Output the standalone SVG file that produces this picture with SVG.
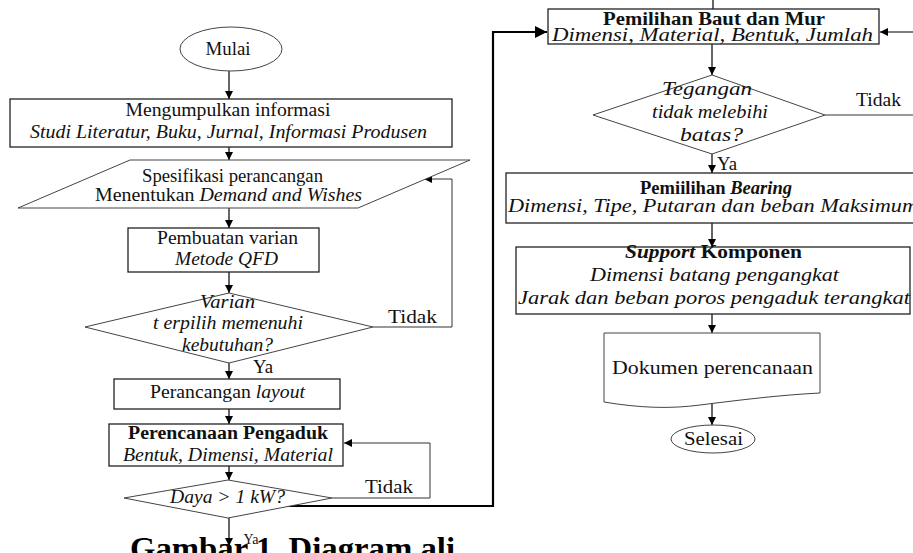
<svg xmlns="http://www.w3.org/2000/svg" width="913" height="553" viewBox="0 0 913 553">
<defs>
<marker id="ah" viewBox="0 0 10 10" refX="10" refY="5" markerWidth="8" markerHeight="8" markerUnits="userSpaceOnUse" orient="auto"><path d="M0,0 L10,5 L0,10 z" fill="#000"/></marker>
<marker id="ahb" viewBox="0 0 10 10" refX="10" refY="5" markerWidth="12" markerHeight="12" markerUnits="userSpaceOnUse" orient="auto"><path d="M0,0 L10,5 L0,10 z" fill="#000"/></marker>
</defs>
<style>
.box{fill:#fff;stroke:#222;stroke-width:1.3}
.shp{fill:#fff;stroke:#444;stroke-width:1}
.t{font-family:"Liberation Serif","Times New Roman",serif;font-size:18px;fill:#111;text-anchor:middle}
.i{font-style:italic}
.b{font-weight:bold}
.ln{fill:none;stroke:#000;stroke-width:1.2}
.lg{fill:none;stroke:#333;stroke-width:1}
.thick{fill:none;stroke:#000;stroke-width:2.2}
</style>
<rect width="913" height="553" fill="#fff"/>

<g id="connectors">
<line class="ln" x1="229" y1="71" x2="229" y2="99" marker-end="url(#ah)"/>
<line class="ln" x1="229" y1="147" x2="229" y2="160" marker-end="url(#ah)"/>
<line class="ln" x1="229" y1="208" x2="229" y2="228" marker-end="url(#ah)"/>
<line class="ln" x1="229" y1="272" x2="229" y2="293" marker-end="url(#ah)"/>
<line class="ln" x1="229" y1="363" x2="229" y2="379" marker-end="url(#ah)"/>
<line class="ln" x1="229" y1="409" x2="229" y2="424" marker-end="url(#ah)"/>
<line class="ln" x1="229" y1="466" x2="229" y2="480" marker-end="url(#ah)"/>
<line class="ln" x1="229" y1="518" x2="229" y2="546" marker-end="url(#ah)"/>
<polyline class="lg" points="373,327 452,327 452,179 424,179" marker-end="url(#ah)"/>
<polyline class="lg" points="332,498 430,498 430,443 344,443" marker-end="url(#ah)"/>
<polyline class="thick" points="230,506 493,506 493,32 547,32" marker-end="url(#ahb)"/>
<line class="ln" x1="713" y1="0" x2="713" y2="9"/>
<line class="ln" x1="913" y1="32" x2="880" y2="32" marker-end="url(#ah)"/>
<line class="lg" x1="825" y1="115" x2="913" y2="115"/>
<line class="ln" x1="712" y1="44" x2="712" y2="75" marker-end="url(#ah)"/>
<line class="ln" x1="712" y1="154" x2="712" y2="173" marker-end="url(#ah)"/>
<line class="ln" x1="712" y1="223" x2="712" y2="247" marker-end="url(#ah)"/>
<line class="ln" x1="712" y1="314" x2="712" y2="333" marker-end="url(#ah)"/>
<line class="ln" x1="712" y1="403" x2="712" y2="425" marker-end="url(#ah)"/>
</g>

<g id="mulai">
<ellipse class="shp" cx="231" cy="49" rx="51" ry="22"/>
<text class="t" x="228" y="55" textLength="45" lengthAdjust="spacingAndGlyphs">Mulai</text>
</g>

<g id="mengumpulkan">
<rect class="box" x="10" y="99" width="442" height="48"/>
<text class="t" x="228" y="116" textLength="205" lengthAdjust="spacingAndGlyphs">Mengumpulkan informasi</text>
<text class="t i" x="228.5" y="138" textLength="397" lengthAdjust="spacingAndGlyphs">Studi Literatur, Buku, Jurnal, Informasi Produsen</text>
</g>

<g id="spesifikasi">
<polygon class="shp" points="130,160 470,160 358,208 18,208"/>
<text class="t" x="232.5" y="182" textLength="181" lengthAdjust="spacingAndGlyphs">Spesifikasi perancangan</text>
<text class="t" x="228.5" y="201" textLength="267" lengthAdjust="spacingAndGlyphs">Menentukan <tspan class="i">Demand and Wishes</tspan></text>
</g>

<g id="pembuatan">
<rect class="box" x="128" y="228" width="191" height="44"/>
<text class="t" x="227.5" y="244" textLength="141" lengthAdjust="spacingAndGlyphs">Pembuatan varian</text>
<text class="t i" x="226.5" y="265" textLength="103" lengthAdjust="spacingAndGlyphs">Metode QFD</text>
</g>

<g id="varian">
<polygon class="shp" points="229,293 373,327 229,363 85,327"/>
<text class="t i" x="227.5" y="308" textLength="55" lengthAdjust="spacingAndGlyphs">Varian</text>
<text class="t i" x="228" y="329" textLength="150" lengthAdjust="spacingAndGlyphs">t erpilih memenuhi</text>
<text class="t i" x="227.5" y="351" textLength="91" lengthAdjust="spacingAndGlyphs">kebutuhan?</text>
<text class="t" x="412.5" y="323" textLength="49" lengthAdjust="spacingAndGlyphs">Tidak</text>
<text class="t" x="263" y="373" textLength="20" lengthAdjust="spacingAndGlyphs">Ya</text>
</g>

<g id="layout">
<rect class="box" x="114" y="379" width="226" height="30"/>
<text class="t" x="227.5" y="398" textLength="155" lengthAdjust="spacingAndGlyphs">Perancangan <tspan class="i">layout</tspan></text>
</g>

<g id="pengaduk">
<rect class="box" x="109" y="424" width="234" height="42"/>
<text class="t b" x="228" y="439" textLength="200" lengthAdjust="spacingAndGlyphs">Perencanaan Pengaduk</text>
<text class="t i" x="228" y="461" textLength="210" lengthAdjust="spacingAndGlyphs">Bentuk, Dimensi, Material</text>
</g>

<g id="daya">
<polygon class="shp" points="228,480 332,498 228,518 124,498"/>
<text class="t i" x="227.5" y="503" textLength="115" lengthAdjust="spacingAndGlyphs">Daya &gt; 1 kW?</text>
<text class="t" x="389" y="493" textLength="48" lengthAdjust="spacingAndGlyphs">Tidak</text>
<text class="t" x="251" y="544" style="font-size:14px">Ya</text>
</g>

<g id="baut">
<rect class="box" x="548" y="9" width="331" height="35"/>
<text class="t b" x="714" y="25" textLength="222" lengthAdjust="spacingAndGlyphs">Pemilihan Baut dan Mur</text>
<text class="t i" x="712.5" y="41" textLength="321" lengthAdjust="spacingAndGlyphs">Dimensi, Material, Bentuk, Jumlah</text>
</g>

<g id="tegangan">
<polygon class="shp" points="712,75 825,115 712,154 593,115"/>
<text class="t i" x="707" y="95" textLength="90" lengthAdjust="spacingAndGlyphs">Tegangan</text>
<text class="t i" x="710" y="118" textLength="116" lengthAdjust="spacingAndGlyphs">tidak melebihi</text>
<text class="t i" x="711.5" y="141" textLength="63" lengthAdjust="spacingAndGlyphs">batas?</text>
<text class="t" x="878.5" y="106" textLength="45" lengthAdjust="spacingAndGlyphs">Tidak</text>
<text class="t" x="727" y="170" textLength="20" lengthAdjust="spacingAndGlyphs">Ya</text>
</g>

<g id="bearing">
<rect class="box" x="506" y="173" width="420" height="50"/>
<text class="t b" x="716" y="194" textLength="152" lengthAdjust="spacingAndGlyphs">Pemiilihan <tspan class="i">Bearing</tspan></text>
<text class="t i" x="508" y="212" style="text-anchor:start" textLength="410" lengthAdjust="spacingAndGlyphs">Dimensi, Tipe, Putaran dan beban Maksimum</text>
</g>

<g id="support">
<rect class="box" x="516" y="247" width="394" height="67"/>
<text class="t b" x="713.5" y="258" textLength="177" lengthAdjust="spacingAndGlyphs"><tspan class="i">Support</tspan> Komponen</text>
<text class="t i" x="714.5" y="281" textLength="249" lengthAdjust="spacingAndGlyphs">Dimensi batang pengangkat</text>
<text class="t i" x="714" y="304" textLength="392" lengthAdjust="spacingAndGlyphs">Jarak dan beban poros pengaduk terangkat</text>
</g>

<g id="dokumen">
<path class="shp" d="M604,333 H820 V393 C780,395 740,400 700,405 C670,409 640,408 604,402 Z"/>
<text class="t" x="712.5" y="374" textLength="201" lengthAdjust="spacingAndGlyphs">Dokumen perencanaan</text>
</g>

<g id="selesai">
<ellipse class="shp" cx="713" cy="439" rx="42" ry="14"/>
<text class="t" x="713.5" y="445" textLength="59" lengthAdjust="spacingAndGlyphs">Selesai</text>
</g>

<text x="130" y="559" textLength="325" lengthAdjust="spacingAndGlyphs" style="font-family:'Liberation Serif','Times New Roman',serif;font-size:31px;font-weight:bold;fill:#000">Gambar 1. Diagram ali</text>
</svg>
